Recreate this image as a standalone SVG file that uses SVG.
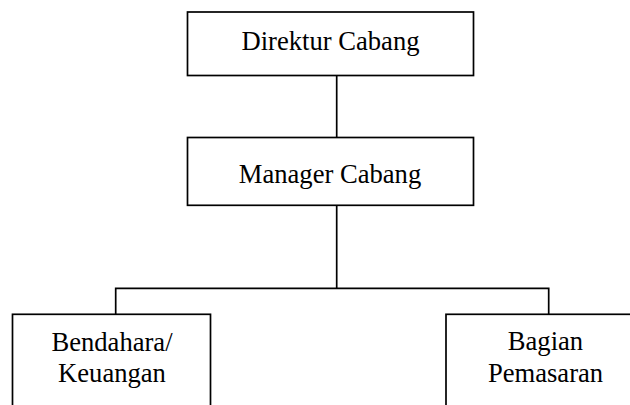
<svg xmlns="http://www.w3.org/2000/svg" width="630" height="405" viewBox="0 0 630 405">
<style>
.box{fill:#fff;stroke:#000;stroke-width:1.7}
.ln{fill:none;stroke:#000;stroke-width:1.7}
text{font-family:"Liberation Serif","Times New Roman",serif;font-size:26.6px;fill:#000;text-anchor:middle}
</style>
<rect width="630" height="405" fill="#fff"/>
<g id="connectors">
<line class="ln" x1="336.7" y1="75.5" x2="336.7" y2="137.5"/>
<line class="ln" x1="336.7" y1="205.3" x2="336.7" y2="288.3"/>
<polyline class="ln" points="115.7,314.3 115.7,288.3 548.7,288.3 548.7,314.3"/>
</g>
<g id="direktur">
<rect class="box" x="187.5" y="12" width="286" height="63.5"/>
<text x="330.5" y="50">Direktur Cabang</text>
</g>
<g id="manager">
<rect class="box" x="187.5" y="137.5" width="286" height="67.8"/>
<text x="330" y="182.7">Manager Cabang</text>
</g>
<g id="bendahara">
<rect class="box" x="12.5" y="314.3" width="198" height="110"/>
<text x="112" y="351">Bendahara/</text>
<text x="112" y="382">Keuangan</text>
</g>
<g id="pemasaran">
<rect class="box" x="446" y="314.3" width="198" height="110"/>
<text x="545.5" y="350">Bagian</text>
<text x="545.5" y="382">Pemasaran</text>
</g>
</svg>
